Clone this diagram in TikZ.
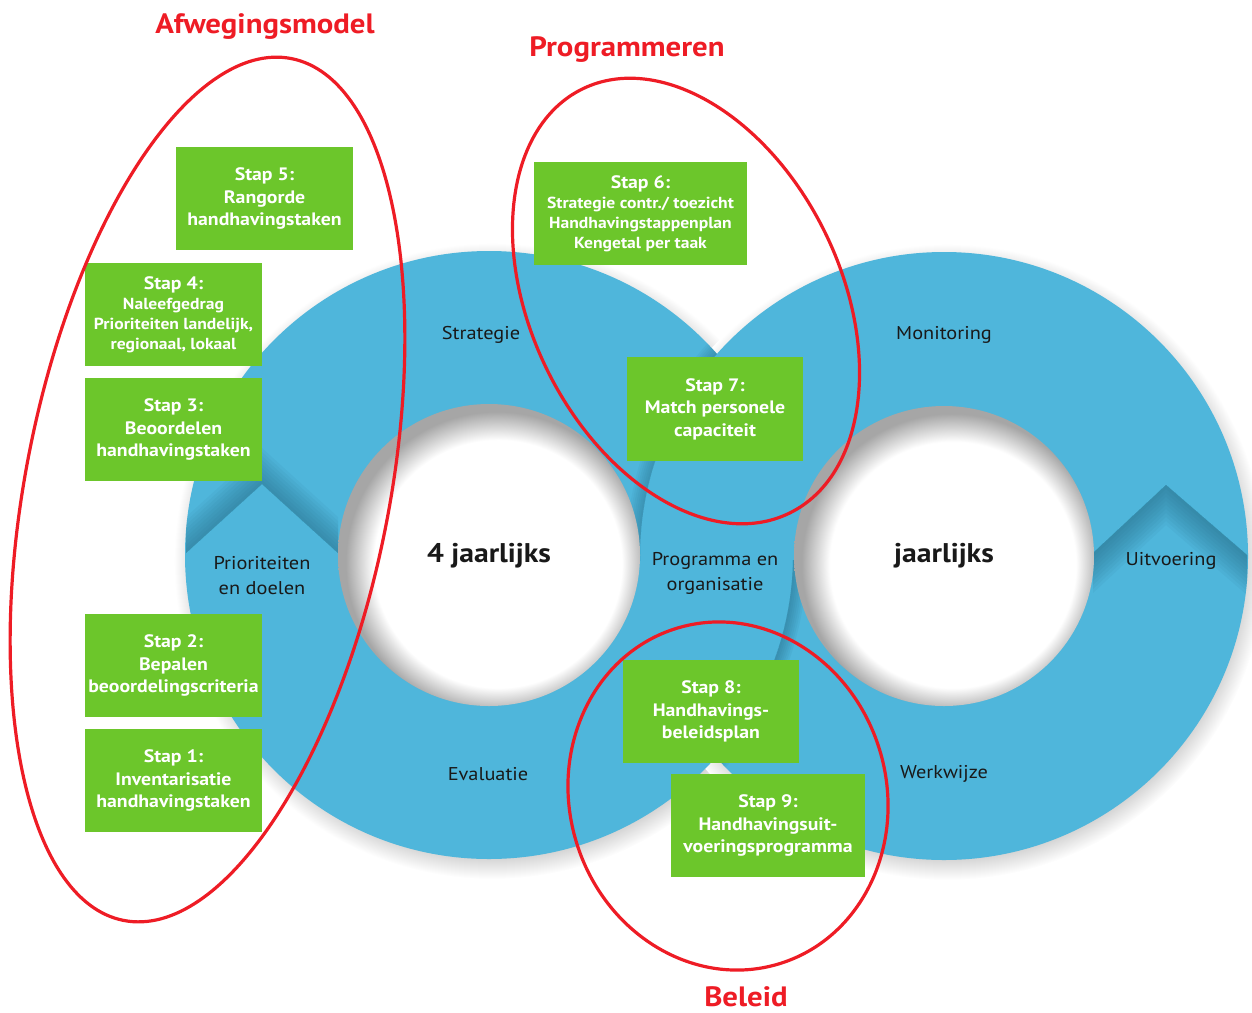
\documentclass[tikz,border=0pt]{standalone}
\usepackage{fontspec}
\setmainfont{PT Sans}[FakeStretch=1.1]
\definecolor{ringblue}{HTML}{4FB6DB}
\definecolor{ringdark}{HTML}{1F5F78}
\definecolor{stapgreen}{HTML}{6CC62B}
\definecolor{markred}{HTML}{EE1C25}
\pgfdeclareradialshading{ringshadow}{\pgfpoint{0bp}{0bp}}{color(0bp)=(black!40); color(21bp)=(black!40); color(25bp)=(white); color(50bp)=(white)}
\pgfdeclareradialshading{holeshadow}{\pgfpoint{2.5bp}{-2.5bp}}{color(0bp)=(white); color(20.5bp)=(white); color(25bp)=(black!35); color(50bp)=(black!35)}
\tikzset{
	stap/.style={fill=stapgreen, text=white, font=\bfseries\fontsize{18}{22.5}\selectfont, align=center, inner sep=0pt},
	fase/.style={font=\fontsize{18.5}{25}\selectfont, align=center, text=black!90},
	cyclus/.style={font=\bfseries\fontsize{27}{30}\selectfont, text=black!90},
	kop/.style={font=\bfseries\fontsize{28}{30}\selectfont, text=markred, anchor=base, inner sep=1pt},
	groep/.style={draw=markred, line width=3.2pt},
}
\begin{document}
\begin{tikzpicture}[x=1pt,y=-1pt]
	\useasboundingbox (0,0) rectangle (1252,1012);
	\coordinate (L) at (489,555);
	\coordinate (R) at (944,556);
	
	% schaduw en ringen
	\shade[shading=ringshadow] (492,561) circle (318);
	\shade[shading=ringshadow] (947,562) circle (318);
	\fill[ringblue] (L) circle (304);
	\fill[ringblue] (R) circle (304);
	
	% kruising
	\begin{scope}
		\clip (L) circle (304);
		\clip (600,300) rectangle (800,560);
		\foreach \r in {2,4,...,14}
			\fill[ringdark, opacity=0.06, even odd rule] (R) circle (304) (R) circle (304+\r);
	\end{scope}
	\begin{scope}
		\clip (R) circle (304);
		\clip (700,560) rectangle (850,770);
		\foreach \r in {2,4,...,14}
			\fill[ringdark, opacity=0.07, even odd rule] (L) circle (304) (L) circle (304+\r);
	\end{scope}
	
	% pijlpunten
	\begin{scope}[even odd rule]
		\clip (L) circle (304) (L) circle (151);
		\foreach \d in {4,8,...,36}
			\fill[ringdark, opacity=0.06] (186,553)--(262,484)--(338,553)--(338,553-\d)--(262,484-\d)--(186,553-\d)--cycle;
	\end{scope}
	\begin{scope}[even odd rule]
		\clip (R) circle (304) (R) circle (150);
		\foreach \d in {4,8,...,40}
			\fill[ringdark, opacity=0.06] (1093,553)--(1166,485)--(1247,555)--(1247,555+\d)--(1166,485+\d)--(1093,553+\d)--cycle;
	\end{scope}
	
	% gaten
	\shade[shading=holeshadow] (L) circle (151);
	\shade[shading=holeshadow] (R) circle (150);
	
	\node (cyc4) at (489,556)[cyclus]{4 jaarlijks};
	\node (cyc1) at (944,556)[cyclus]{jaarlijks};
	
	\node (strat) at (481,335)[fase]{Strategie};
	\node (monit) at (944,335)[fase]{Monitoring};
	\node (prior) at (262,576)[fase]{Prioriteiten\\en doelen};
	\node (progr) at (715,573)[fase]{Programma en\\organisatie};
	\node (uitv) at (1171,561)[fase]{Uitvoering};
	\node (eval) at (488,774)[fase]{Evaluatie};
	\node (werkw) at (944,774)[fase]{Werkwijze};
	
	% stappen
	\node (s5) at (264.5,198.5)[stap, minimum width=177, minimum height=103]{Stap 5:\\Rangorde\\handhavingstaken};
	\node (s4) at (173.5,314.5)[stap, minimum width=177, minimum height=103, font=\bfseries\fontsize{16}{20}\selectfont]{{\fontsize{18}{20}\selectfont Stap 4:}\\Naleefgedrag\\Prioriteiten landelijk,\\regionaal, lokaal};
	\node (s3) at (173.5,429.5)[stap, minimum width=177, minimum height=103]{Stap 3:\\Beoordelen\\handhavingstaken};
	\node (s2) at (173.5,665.5)[stap, minimum width=177, minimum height=103]{Stap 2:\\Bepalen\\beoordelingscriteria};
	\node (s1) at (173.5,780.5)[stap, minimum width=177, minimum height=103]{Stap 1:\\Inventarisatie\\handhavingstaken};
	\node (s6) at (640.5,213.5)[stap, minimum width=213, minimum height=103, font=\bfseries\fontsize{16}{20}\selectfont]{{\fontsize{18}{20}\selectfont Stap 6:}\\Strategie contr./ toezicht\\Handhavingstappenplan\\Kengetal per taak};
	\node (s7) at (715,409)[stap, minimum width=176, minimum height=104]{Stap 7:\\Match personele\\capaciteit};
	\node (s8) at (711,711.5)[stap, minimum width=176, minimum height=103]{Stap 8:\\Handhavings-\\beleidsplan};
	\node (s9) at (768,825.5)[stap, minimum width=194, minimum height=103]{Stap 9:\\Handhavingsuit-\\voeringsprogramma};
	
	% groepen
	\draw[groep, rotate around={-11:(207.5,489.5)}] (207.5,489.5) ellipse [x radius=182, y radius=439];
	\draw[groep, rotate around={26:(686,301)}] (686,301) ellipse [x radius=155, y radius=236];
	\draw[groep, rotate around={17:(728,796)}] (728,796) ellipse [x radius=158.5, y radius=175.4];
	
	\node (afw) at (265,33)[kop]{Afwegingsmodel};
	\node (prg) at (627,56)[kop]{Programmeren};
	\node (bel) at (746,1006)[kop]{Beleid};
\end{tikzpicture}
\end{document}
